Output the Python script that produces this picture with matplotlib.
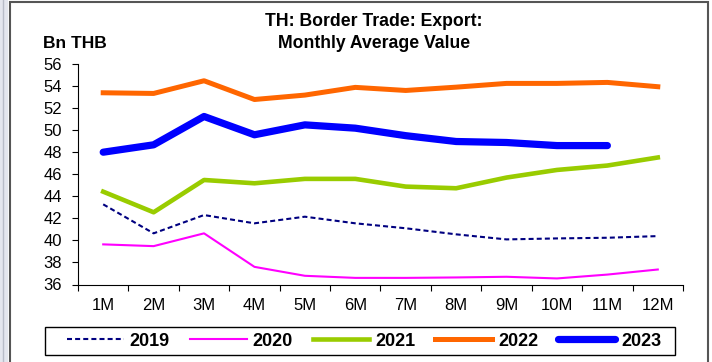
import matplotlib
matplotlib.use("Agg")
import matplotlib.pyplot as plt
from matplotlib.patches import Rectangle
from matplotlib.lines import Line2D
import numpy as np

months = ["1M", "2M", "3M", "4M", "5M", "6M", "7M", "8M", "9M", "10M", "11M", "12M"]
y2019 = [43.27, 40.64, 42.30, 41.55, 42.15, 41.55, 41.10, 40.55, 40.09, 40.18, 40.24, 40.39]
y2020 = [39.64, 39.48, 40.64, 37.60, 36.79, 36.60, 36.60, 36.64, 36.70, 36.55, 36.90, 37.36]
y2021 = [44.42, 42.55, 45.48, 45.18, 45.58, 45.58, 44.88, 44.73, 45.70, 46.39, 46.79, 47.52]
y2022 = [53.39, 53.33, 54.48, 52.78, 53.18, 53.88, 53.60, 53.90, 54.24, 54.24, 54.33, 53.94]
y2023 = [48.00, 48.67, 51.24, 49.58, 50.48, 50.18, 49.50, 48.97, 48.88, 48.60, 48.60]
yticks = [36, 38, 40, 42, 44, 46, 48, 50, 52, 54, 56]

FONT = ["Liberation Sans", "DejaVu Sans"]
plt.rcParams["font.family"] = FONT

W, H = 712, 362
fig = plt.figure(figsize=(W / 100, H / 100), dpi=100)

# background decorations (frame)
fig.patches.append(Rectangle((0, 0), 8 / W, 1, transform=fig.transFigure,
                             facecolor="#e4e6ee", edgecolor="none", zorder=0))
fig.lines.append(Line2D([3 / W, 3 / W], [0, 1], transform=fig.transFigure,
                        color="#b8bcc8", lw=1.0))
fig.patches.append(Rectangle((10 / W, -0.05), (708 - 10) / W, 1 - 2 / H + 0.05,
                             transform=fig.transFigure, facecolor="none",
                             edgecolor="#555555", lw=1.5, zorder=1))
# legend frame
fig.patches.append(Rectangle((45 / W, 1 - 355 / H), (675 - 45) / W, 28 / H,
                             transform=fig.transFigure, facecolor="none",
                             edgecolor="black", lw=1.0, zorder=1))

left, right, top, bottom = 78, 683, 64, 284.5
ax = fig.add_axes([left / W, 1 - bottom / H, (right - left) / W, (bottom - top) / H])

x = np.arange(len(months))
ax.plot(x, y2019, color="#000080", lw=1.5, ls=(0, (2.4, 1.5)), label="2019")
ax.plot(x, y2020, color="#FF00FF", lw=1.5, label="2020")
ax.plot(x, y2021, color="#99CC00", lw=3.3, label="2021")
ax.plot(x, y2022, color="#FF6600", lw=3.6, label="2022")
ax.plot(np.arange(len(y2023)), y2023, color="#0000FF", lw=5.2, label="2023",
        solid_capstyle="round")

ax.set_xlim(-0.5, len(months) - 0.5)
ax.set_ylim(36, 56)
ax.set_yticks(yticks)
ax.set_yticklabels([str(v) for v in yticks], fontsize=12)
ax.set_xticks(x)
ax.set_xticklabels(months, fontsize=12)
ax.set_xticks(np.arange(len(months) + 1) - 0.5, minor=True)
ax.tick_params(axis="x", which="major", length=0, pad=9.5)
ax.tick_params(axis="x", which="minor", length=4, width=0.8, direction="out")
ax.tick_params(axis="y", length=4.3, width=0.8, direction="out", pad=7)
for s in ["top", "right"]:
    ax.spines[s].set_visible(False)
for s in ["left", "bottom"]:
    ax.spines[s].set_linewidth(0.8)
ax.set_facecolor("none")

fig.text(374 / W, 1 - 21 / H, "TH: Border Trade: Export:", ha="center", va="center",
         fontsize=12.7, fontweight="bold")
fig.text(374 / W, 1 - 43 / H, "Monthly Average Value", ha="center", va="center",
         fontsize=12.7, fontweight="bold")
fig.text(43 / W, 1 - 44 / H, "Bn THB", ha="left", va="center",
         fontsize=12.5, fontweight="bold")

leg = ax.legend(loc="center", bbox_to_anchor=(364 / W, 1 - 341 / H),
                bbox_transform=fig.transFigure, ncol=5, frameon=False,
                prop={"weight": "bold", "size": 13},
                handlelength=3.15, handletextpad=0.33, columnspacing=1.1,
                borderpad=0.2)
leg.set_zorder(5)

fig.savefig("out.png", dpi=100)
